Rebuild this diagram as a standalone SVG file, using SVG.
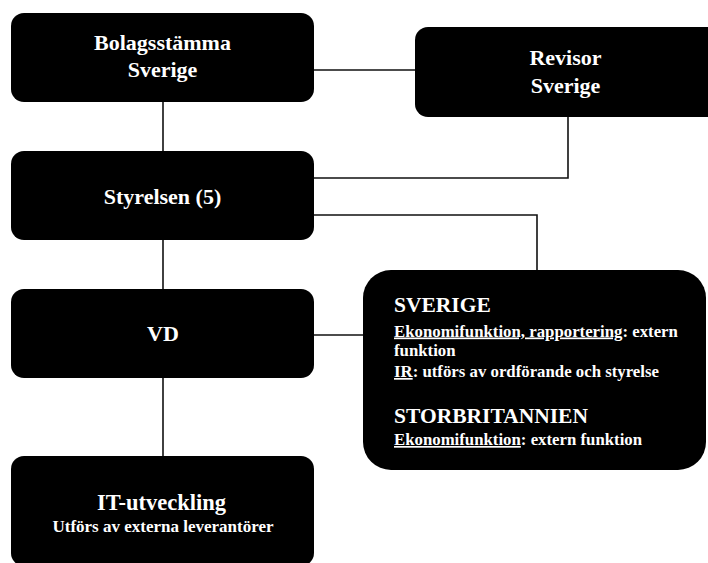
<svg xmlns="http://www.w3.org/2000/svg" width="708" height="563" viewBox="0 0 708 563">
<style>
.box{fill:#000;}
text{font-family:'Liberation Serif','Times New Roman','DejaVu Serif',serif;font-weight:bold;fill:#fff;}
.c{text-anchor:middle;font-size:22px;}
.conn{fill:none;stroke:#111;stroke-width:1.6;}
.u{text-decoration:underline;}
</style>
<rect width="708" height="563" fill="#fff"/>
<g id="connectors">
<path class="conn" d="M163,102 V151"/>
<path class="conn" d="M314,70 H415"/>
<path class="conn" d="M568,117 V178 H314"/>
<path class="conn" d="M314,215 H537 V270"/>
<path class="conn" d="M163,240 V289"/>
<path class="conn" d="M314,335 H363"/>
<path class="conn" d="M163,378 V456"/>
</g>
<g id="bolagsstamma">
<rect class="box" x="11" y="13" width="303" height="89" rx="13"/>
<text class="c" x="162.5" y="50">Bolagsstämma</text>
<text class="c" x="162.5" y="77">Sverige</text>
</g>
<g id="revisor">
<rect class="box" x="415" y="27" width="310" height="90" rx="13"/>
<text class="c" x="565.5" y="65">Revisor</text>
<text class="c" x="565.5" y="93">Sverige</text>
</g>
<g id="styrelsen">
<rect class="box" x="11" y="151" width="303" height="89" rx="13"/>
<text class="c" x="162.5" y="204">Styrelsen (5)</text>
</g>
<g id="vd">
<rect class="box" x="11" y="289" width="303" height="89" rx="13"/>
<text class="c" x="163" y="341">VD</text>
</g>
<g id="it">
<rect class="box" x="11" y="456" width="303" height="110" rx="13"/>
<text x="161.5" y="510" text-anchor="middle" font-size="22.5">IT-utveckling</text>
<text x="163" y="531.5" text-anchor="middle" font-size="17">Utförs av externa leverantörer</text>
</g>
<g id="funktioner">
<rect class="box" x="363" y="270" width="343" height="200" rx="28"/>
<text x="394" y="312" font-size="21.5">SVERIGE</text>
<text x="394" y="336.5" font-size="16.8"><tspan class="u">Ekonomifunktion, rapportering</tspan>: extern</text>
<text x="394" y="356" font-size="16.8">funktion</text>
<text x="394" y="377" font-size="16.8"><tspan class="u">IR</tspan>: utförs av ordförande och styrelse</text>
<text x="394" y="423" font-size="21.5">STORBRITANNIEN</text>
<text x="394" y="445" font-size="16.8"><tspan class="u">Ekonomifunktion</tspan>: extern funktion</text>
</g>
</svg>
